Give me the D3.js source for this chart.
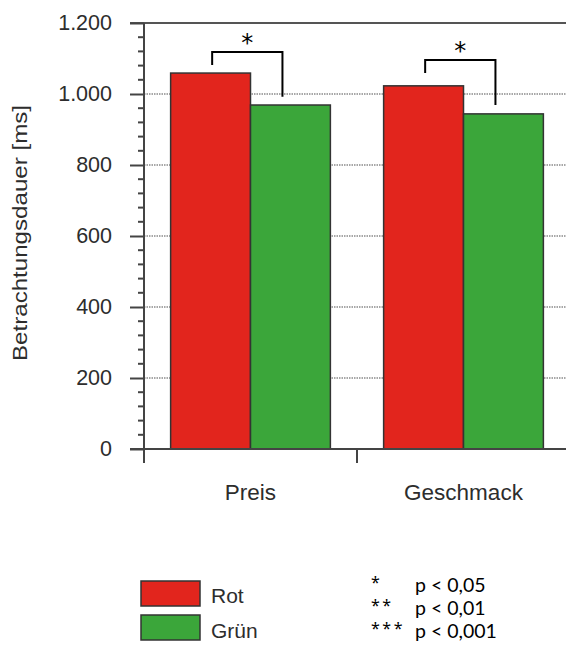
<!DOCTYPE html>
<html><head><meta charset="utf-8">
<script src="https://cdn.jsdelivr.net/npm/d3@7"></script>
<style>body{margin:0;background:#fff}svg{display:block}</style>
</head><body>
<script>
const categories = ["Preis", "Geschmack"];
const series = ["Rot", "Grün"];
const rotValues = [1059, 1023];
const gruenValues = [969, 944];
const colors = ["#e2251d", "#3ba63a"];
const yTicks = [0, 200, 400, 600, 800, 1000, 1200];
const yTickLabels = ["0", "200", "400", "600", "800", "1.000", "1.200"];
const bracketTop = [1118, 1096];
const bracketLeft = [1082, 1059];
const bracketRight = [992, 969];
const sigLabels = ["*", "*"];
const pStars = ["*", "**", "***"];
const pTexts = ["p < 0,05", "p < 0,01", "p < 0,001"];

const W = 566, H = 653;
const AR = "Liberation Sans, Arial, sans-serif";
const svg = d3.select("body").append("svg").attr("width", W).attr("height", H);

const y = d3.scaleLinear().domain([0, 1200]).range([449, 23]);
const x = d3.scaleBand().domain(categories).range([144, 570]).paddingInner(0.25).paddingOuter(0.125);
const xs = d3.scaleBand().domain(series).range([0, x.bandwidth()]);

// gridlines
svg.append("g").selectAll("line").data(yTicks.filter(v => v > 0 && v < 1200)).join("line")
  .attr("x1", 144).attr("x2", W).attr("y1", d => y(d)).attr("y2", d => y(d))
  .attr("stroke", "#8a8a8a").attr("stroke-width", 1.3).attr("stroke-dasharray", "1.5,1");
// top line
svg.append("line").attr("x1", 130).attr("x2", W).attr("y1", y(1200)).attr("y2", y(1200))
  .attr("stroke", "#555").attr("stroke-width", 2);

// bars
const data = categories.map((c, i) => ({c, vals: [rotValues[i], gruenValues[i]]}));
const g = svg.append("g").selectAll("g").data(data).join("g")
  .attr("transform", d => `translate(${x(d.c)},0)`);
g.selectAll("rect").data(d => d.vals.map((v, j) => ({s: series[j], v, j}))).join("rect")
  .attr("x", d => xs(d.s)).attr("width", xs.bandwidth())
  .attr("y", d => y(d.v)).attr("height", d => y(0) - y(d.v))
  .attr("fill", d => colors[d.j]).attr("stroke", "#333").attr("stroke-width", 1.5);

// y axis
const yAxis = d3.axisLeft(y).tickValues(yTicks).tickSize(14).tickFormat((d, i) => yTickLabels[i]).tickPadding(18);
const ya = svg.append("g").attr("transform", "translate(144,0)").call(yAxis);
ya.select(".domain").attr("stroke", "#444").attr("stroke-width", 2).attr("d", `M0,${y(1200)}V463`);
ya.selectAll(".tick line").attr("stroke", "#444").attr("stroke-width", 2);
ya.selectAll(".tick text").attr("font-family", AR).attr("font-size", 21.5).attr("fill", "#2d2d2d");
const minor = d3.range(0, 1200, 40).filter(v => v % 200 !== 0);
svg.append("g").selectAll("line").data(minor).join("line")
  .attr("x1", 138).attr("x2", 144).attr("y1", d => y(d)).attr("y2", d => y(d))
  .attr("stroke", "#444").attr("stroke-width", 2);

// x axis
svg.append("line").attr("x1", 130).attr("x2", W).attr("y1", y(0)).attr("y2", y(0)).attr("stroke", "#444").attr("stroke-width", 2);
svg.append("line").attr("x1", 144 + x.step()).attr("x2", 144 + x.step()).attr("y1", y(0)).attr("y2", 463).attr("stroke", "#444").attr("stroke-width", 2);
svg.append("g").selectAll("text").data(categories).join("text")
  .attr("x", d => x(d) + x.bandwidth() / 2).attr("y", 500).attr("text-anchor", "middle")
  .attr("font-family", AR).attr("font-size", 22.5).attr("fill", "#2d2d2d").text(d => d);

// y title
svg.append("text").attr("transform", "translate(27,233) rotate(-90)").attr("text-anchor", "middle")
  .attr("font-family", AR).attr("font-size", 20).attr("fill", "#2d2d2d")
  .attr("textLength", 256).attr("lengthAdjust", "spacingAndGlyphs")
  .text("Betrachtungsdauer [ms]");

// brackets
categories.forEach((c, i) => {
  const xl = x(c) + xs("Rot") + xs.bandwidth() * 0.52;
  const xr = x(c) + xs("Grün") + xs.bandwidth() * 0.4;
  svg.append("path").attr("d", `M${xl},${y(bracketLeft[i])}V${y(bracketTop[i])}H${xr}V${y(bracketRight[i])}`)
    .attr("fill", "none").attr("stroke", "#000").attr("stroke-width", 2);
  svg.append("text").attr("x", (xl + xr) / 2).attr("y", y(bracketTop[i]) - 1).attr("text-anchor", "middle")
    .attr("font-family", "DejaVu Sans, sans-serif").attr("font-size", 24).attr("fill", "#000").text(sigLabels[i]);
});

// legend
const lg = svg.append("g");
series.forEach((s, i) => {
  lg.append("rect").attr("x", 141).attr("y", 581 + i * 34).attr("width", 59).attr("height", 25)
    .attr("fill", colors[i]).attr("stroke", "#333").attr("stroke-width", 1.5);
  lg.append("text").attr("x", 211).attr("y", 603 + i * 35)
    .attr("font-family", AR).attr("font-size", 21).attr("fill", "#2d2d2d").text(s);
});
pStars.forEach((s, i) => {
  svg.append("text").attr("x", 371).attr("y", 588 + i * 23).attr("font-family", "'Noto Sans', sans-serif")
    .attr("font-size", 16).attr("letter-spacing", 2.5).attr("fill", "#000").text(s);
  svg.append("text").attr("x", 415).attr("y", 592 + i * 23).attr("font-family", "Lato, 'Open Sans', sans-serif")
    .attr("font-size", 19.5).attr("fill", "#000").text(pTexts[i]);
});
</script>
</body></html>
